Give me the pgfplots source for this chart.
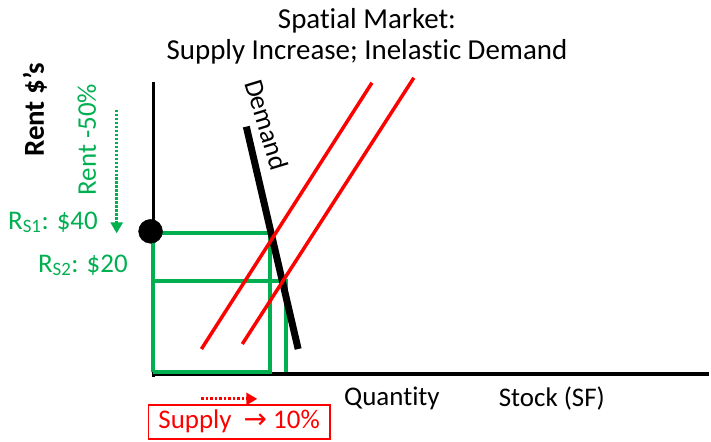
\documentclass[border=0pt]{standalone}
\usepackage{pgfplots}
\pgfplotsset{compat=1.18}
\usepackage{fontspec}
\setmainfont[Ligatures={NoCommon}]{Carlito}
\newfontfamily\dejavu{DejaVu Sans}
\usetikzlibrary{arrows.meta}
\definecolor{ogreen}{HTML}{00B050}
\begin{document}
\begin{tikzpicture}
\begin{axis}[
  width=711pt, height=443pt, scale only axis,
  xmin=0, xmax=711, ymin=0, ymax=443, y dir=reverse,
  hide axis, clip=false]
\path (rel axis cs:0,0) rectangle (rel axis cs:1,1);
% axes
\addplot[black, line width=3pt] coordinates {(154,82) (154,378)};
\addplot[black, line width=4pt] coordinates {(152,375) (711,375)};
% green rectangles
\addplot[ogreen, line width=4pt] coordinates {(153,373) (153,234) (271,234) (271,373) (153,373)};
\addplot[ogreen, line width=4pt] coordinates {(155,282) (287,282) (287,373)};
% demand
\addplot[black, line width=7pt] coordinates {(247,127) (299,350)};
% supply
\addplot[red, line width=3.5pt] coordinates {(202,350) (373,83)};
\addplot[red, line width=3.5pt] coordinates {(243,345) (415,78)};
% dot
\addplot[only marks, mark=*, mark size=12pt, black] coordinates {(151,232)};
% arrows
\addplot[ogreen, line width=3pt, dash pattern=on 2.5pt off 1.5pt, -{Triangle[width=12pt,length=11pt,fill=ogreen]}] coordinates {(117,110) (117,234)};
\addplot[red, line width=3pt, dash pattern=on 2.5pt off 2pt, -{Triangle[width=12pt,length=11pt,fill=red]}] coordinates {(202,400) (258,400)};
% texts
\node[align=center, font=\fontsize{29}{31}\selectfont] at (axis cs:368,36) {Spatial Market:\\Supply Increase; Inelastic Demand};
\node[rotate=90, font=\fontsize{29}{30}\selectfont\bfseries, inner sep=0pt] at (axis cs:35,110) {Rent \$’s};
\node[rotate=90, text=ogreen, font=\fontsize{27}{30}\selectfont] at (axis cs:87,140) {Rent -50\%};
\node[anchor=west, text=ogreen, font=\fontsize{27}{30}\selectfont, inner sep=0pt] at (axis cs:8,223) {R\textsubscript{S1}: \$40};
\node[anchor=west, text=ogreen, font=\fontsize{27}{30}\selectfont, inner sep=0pt] at (axis cs:38,266) {R\textsubscript{S2}: \$20};
\node[rotate=-73, font=\fontsize{27}{30}\selectfont, inner sep=0pt] at (axis cs:268,125) {Demand};
\node[anchor=west, font=\fontsize{27}{30}\selectfont, inner sep=0pt] at (axis cs:345,400) {Quantity};
\node[anchor=west, font=\fontsize{27}{30}\selectfont, inner sep=0pt] at (axis cs:500,400) {Stock (SF)};
\node[draw=red, line width=1.5pt, text=red, anchor=west, font=\fontsize{27}{30}\selectfont, minimum height=34pt, inner xsep=2pt, inner ysep=0pt, minimum width=182pt] at (axis cs:148,423) {Supply~ {\dejavu\fontsize{28}{30}\selectfont →} 10\%};
\end{axis}
\end{tikzpicture}
\end{document}
